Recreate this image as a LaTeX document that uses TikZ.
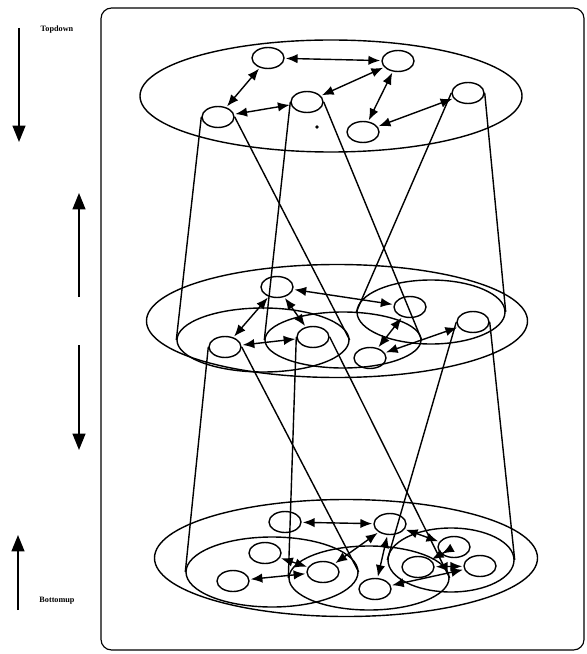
\documentclass[tikz,border=0pt]{standalone}
\usepackage{fontspec}
\setmainfont{Liberation Serif}
\usetikzlibrary{arrows.meta,shapes.geometric}

\tikzset{
  agent/.style={draw,ellipse,inner sep=0pt,minimum width=0.96cm,minimum height=0.63cm},
  region/.style={draw,ellipse,inner sep=0pt},
  link/.style={{Latex[length=10pt,width=8pt]}-{Latex[length=10pt,width=8pt]},shorten <=1pt,shorten >=1pt},
  flow/.style={-{Triangle[length=14pt,width=11pt]},line width=1.4pt}
}

\begin{document}
\begin{tikzpicture}[x=0.03cm,y=-0.03cm,line width=1.2pt,font=\fontsize{7}{8}\selectfont\bfseries]
  \useasboundingbox (0,0) rectangle (586,654);
  \draw[rounded corners=9pt,line width=1pt] (101,8) rectangle (584,650);

  % direction arrows on the left
  \coordinate (td1) at (19,28);  \coordinate (td2) at (19,142);
  \coordinate (up1) at (79,297); \coordinate (up2) at (79,193);
  \coordinate (dn1) at (79,345); \coordinate (dn2) at (79,450);
  \coordinate (bu1) at (18,610); \coordinate (bu2) at (18,535);
  \draw[flow] (td1) -- (td2);
  \draw[flow] (up1) -- (up2);
  \draw[flow] (dn1) -- (dn2);
  \draw[flow] (bu1) -- (bu2);
  \node (topdown) at (57,30) {Topdown};
  \node (bottomup) at (57,601) {Bottomup};

  % top level
  \node[region,minimum width=11.46cm,minimum height=3.36cm] (top) at (331,96) {};
  \node[agent] (tA) at (268,58) {};
  \node[agent] (tB) at (398,61) {};
  \node[agent] (tC) at (218,117) {};
  \node[agent] (tD) at (307,102) {};
  \node[agent] (tE) at (363,132) {};
  \node[agent] (tF) at (468,93) {};
  \fill (317,127) circle (1.8);
  \draw[link] (tA) -- (tB);
  \draw[link] (tA) -- (tC);
  \draw[link] (tC) -- (tD);
  \draw[link] (tB) -- (tD);
  \draw[link] (tB) -- (tE);
  \draw[link] (tE) -- (tF);

  % middle level
  \node[region,minimum width=11.43cm,minimum height=3.39cm] (mid) at (337,321) {};
  \node[region,minimum width=5.16cm,minimum height=1.92cm] (mM1) at (263,340) {};
  \node[region,minimum width=4.68cm,minimum height=1.68cm] (mM2) at (343,340) {};
  \node[region,minimum width=4.44cm,minimum height=1.92cm] (mM3) at (431,312) {};
  \node[agent] (mN1) at (277,287) {};
  \node[agent] (mP) at (225,347) {};
  \node[agent] (mQ) at (313,337) {};
  \node[agent] (mN4) at (410,307) {};
  \node[agent] (mN5) at (370,358) {};
  \node[agent] (mR) at (473,322) {};
  \draw[link] (mN1) -- (mP);
  \draw[link] (mP) -- (mQ);
  \draw[link] (mN1) -- (mQ);
  \draw[link] (mN1) -- (mN4);
  \draw[link] (mN4) -- (mN5);
  \draw[link] (mN5) -- (mR);

  % bottom level
  \node[region,minimum width=11.49cm,minimum height=3.51cm] (bot) at (346,558) {};
  \node[region,minimum width=5.16cm,minimum height=2.1cm] (bB1) at (272,572) {};
  \node[region,minimum width=4.8cm,minimum height=1.92cm] (bB2) at (369,578) {};
  \node[region,minimum width=3.78cm,minimum height=1.92cm] (bB3) at (451,560) {};
  \node[agent] (b1) at (285,522) {};
  \node[agent] (b2) at (265,553) {};
  \node[agent] (b3) at (233,581) {};
  \node[agent] (b4) at (323,572) {};
  \node[agent] (b5) at (390,524) {};
  \node[agent] (b6) at (454,547) {};
  \node[agent] (b7) at (418,567) {};
  \node[agent] (b8) at (480,566) {};
  \node[agent] (b9) at (375,589) {};
  \draw[link] (b1) -- (b5);
  \draw[link] (b3) -- (b4);
  \draw[link] (b2) -- (b4);
  \draw[link] (b4) -- (b5);
  \draw[link] (b5) -- (b9);
  \draw[link] (b5) -- (b6);
  \draw[link] (b6) -- (b7);
  \draw[link] (b7) -- (b8);
  \draw[link] (b9) -- (b8);

  % cones from top to middle
  \draw (tC.west) -- (mM1.west);  \draw (tC.east) -- (mM1.east);
  \draw (tD.west) -- (mM2.west);  \draw (tD.east) -- (mM2.east);
  \draw (tF.west) -- (mM3.west);  \draw (tF.east) -- (mM3.east);
  % cones from middle to bottom
  \draw (mP.west) -- (bB1.west);  \draw (mP.east) -- (bB1.east);
  \draw (mQ.west) -- (bB2.west);  \draw (mQ.east) -- (bB2.east);
  \draw (mR.west) -- (bB3.west);  \draw (mR.east) -- (bB3.east);
\end{tikzpicture}
\end{document}
